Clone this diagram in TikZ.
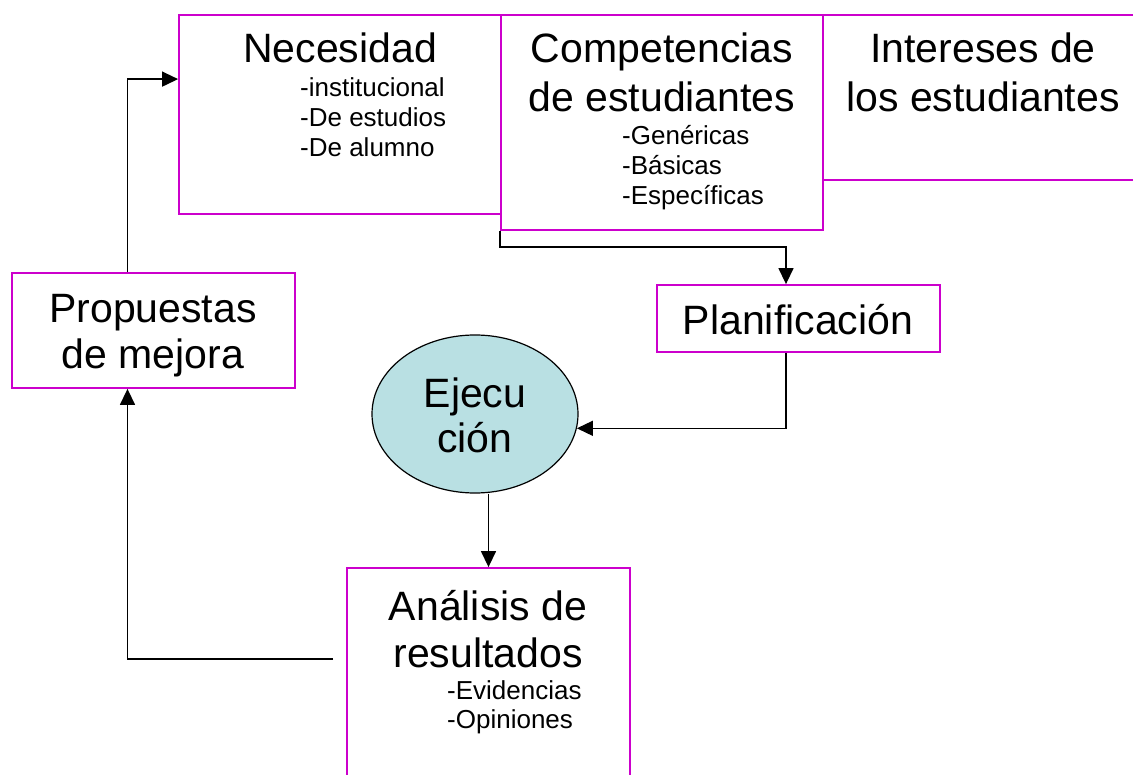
\documentclass[tikz,border=0pt]{standalone}
\usepackage{fontspec}
\setmainfont{Liberation Sans}
\usetikzlibrary{shapes.geometric,arrows.meta}
\definecolor{boxmag}{HTML}{CC00CC}
\definecolor{ejfill}{HTML}{B9E0E3}
\tikzset{
  pbox/.style={draw=boxmag, line width=1.8pt, rectangle, inner sep=0pt, fill=white},
  big/.style={font=\fontsize{41}{47}\selectfont, inner sep=0pt, anchor=base},
  small/.style={font=\fontsize{26}{30}\selectfont, inner sep=0pt, anchor=base west},
  arr/.style={draw=black, line width=1.4pt, -{Triangle[length=16pt,width=15pt]}},
  conn/.style={draw=black, line width=1.4pt}
}
\begin{document}
\begin{tikzpicture}[x=1pt,y=-1pt]
\useasboundingbox (0,0) rectangle (1133,775);
\clip (0,0) rectangle (1133,775);
% boxes
\node[pbox, minimum width=330pt, minimum height=165pt] (inte) at (988,97.5) {};
\node[pbox, minimum width=322pt, minimum height=199pt] (nec) at (340,114.5) {};
\node[pbox, minimum width=322pt, minimum height=215pt] (comp) at (662,122.5) {};
\node[pbox, minimum width=283pt, minimum height=67pt] (plan) at (798.5,318.5) {};
\node[pbox, minimum width=283pt, minimum height=115pt] (prop) at (153.5,330.5) {};
\node[pbox, minimum width=283pt, minimum height=230pt] (anal) at (488.5,683) {};
\node[ellipse, draw=black, line width=1.2pt, fill=ejfill, minimum width=206pt, minimum height=158pt, inner sep=0pt] (ejec) at (475,414) {};
% texts
\node[big] (necT) at (340,63) {Necesidad};
\node[small] (nec1) at (300,97) {-institucional};
\node[small] (nec2) at (300,127) {-De estudios};
\node[small] (nec3) at (300,157) {-De alumno};
\node[big] (compT1) at (662,63) {Competencias};
\node[big] (compT2) at (662,112) {de estudiantes};
\node[small] (comp1) at (622,145) {-Genéricas};
\node[small] (comp2) at (622,175) {-Básicas};
\node[small] (comp3) at (622,205) {-Específicas};
\node[big] (inteT1) at (983,63) {Intereses de};
\node[big] (inteT2) at (983,112) {los estudiantes};
\node[big] (planT) at (798,335) {Planificación};
\node[big] (propT1) at (153,323) {Propuestas};
\node[big] (propT2) at (153,369) {de mejora};
\node[big] (ejT1) at (475,408) {Ejecu};
\node[big] (ejT2) at (475,453) {ción};
\node[big] (anT1) at (488,620) {Análisis de};
\node[big] (anT2) at (488,667) {resultados};
\node[small] (an1) at (447,699) {-Evidencias};
\node[small] (an2) at (447,728) {-Opiniones};
% connectors
\coordinate (anout) at (333,659);
\draw[arr] ([xshift=-26pt]prop.north) |- ([yshift=-65pt]nec.north west);
\draw[arr] (comp.south west) -- ++(0,16) -| ([xshift=-12.5pt]plan.north);
\draw[arr] ([xshift=-12.5pt]plan.south) |- (ejec.-8);
\draw[arr] (ejec.south -| anal.north) -- (anal.north);
\draw[arr] (anout) -| ([xshift=-26pt]prop.south);
\end{tikzpicture}
\end{document}
